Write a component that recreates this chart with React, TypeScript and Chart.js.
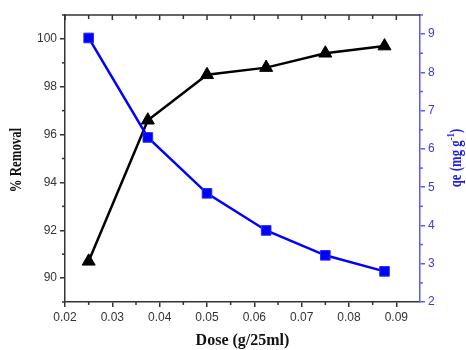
import React, { useEffect, useRef } from "react";
import { Chart, registerables } from "chart.js";

Chart.register(...registerables);

const doses = [0.025, 0.0375, 0.05, 0.0625, 0.075, 0.0875];
const removal = [90.7, 96.6, 98.5, 98.8, 99.4, 99.7];
const qe = [8.9, 6.3, 4.84, 3.87, 3.22, 2.8];

const xMajor = [0.02, 0.03, 0.04, 0.05, 0.06, 0.07, 0.08, 0.09];
const xMinor = [0.025, 0.035, 0.045, 0.055, 0.065, 0.075, 0.085];
const yMajor = [90, 92, 94, 96, 98, 100];
const yMinor = [89, 91, 93, 95, 97, 99, 101];
const y1Major = [2, 3, 4, 5, 6, 7, 8, 9];
const y1Minor = [2.5, 3.5, 4.5, 5.5, 6.5, 7.5, 8.5, 9.5];

const xTitle = "Dose (g/25ml)";
const yTitle = "% Removal";
const y1TitleMain = "qe (mg g";
const y1TitleSup = "-1";
const y1TitleEnd = ")";

const AXIS = "#333333";
const BLUE_AXIS = "#5a5aff";
const BLUE_TEXT = "#3a3ae0";

const framePlugin = {
  id: "frame",
  afterDraw(chart: any) {
    const { ctx, chartArea } = chart;
    const { left, right, top, bottom } = chartArea;
    const x = chart.scales.x;
    const y = chart.scales.y;
    const y1 = chart.scales.y1;
    const ln = (a: number, b: number, c: number, d: number) => {
      ctx.beginPath();
      ctx.moveTo(a, b);
      ctx.lineTo(c, d);
      ctx.stroke();
    };
    ctx.save();
    ctx.lineWidth = 1.5;
    ctx.strokeStyle = AXIS;
    ln(left, top, right, top);
    xMajor.forEach((v) => {
      const p = x.getPixelForValue(v);
      ln(p, top, p, top + 5);
    });
    xMinor.forEach((v) => {
      const p = x.getPixelForValue(v);
      ln(p, top, p, top + 4);
      ln(p, bottom, p, bottom + 3);
    });
    yMinor.forEach((v) => {
      const p = y.getPixelForValue(v);
      if (p >= top - 0.5 && p <= bottom + 0.5) ln(left, p, left - 3, p);
    });
    ctx.strokeStyle = BLUE_AXIS;
    y1Minor.forEach((v) => {
      const p = y1.getPixelForValue(v);
      if (p >= top - 0.5 && p <= bottom + 0.5) ln(right, p, right + 3, p);
    });

    // Titles
    ctx.fillStyle = "#111";
    ctx.font = "bold 16px 'Liberation Serif'";
    ctx.textAlign = "center";
    ctx.textBaseline = "middle";
    ctx.fillText(xTitle, (left + right) / 2, 341);

    ctx.save();
    ctx.translate(17, 160);
    ctx.rotate(-Math.PI / 2);
    ctx.scale(0.8, 1);
    ctx.fillText(yTitle, 0, 0);
    ctx.restore();

    ctx.save();
    ctx.translate(457, 158);
    ctx.rotate(-Math.PI / 2);
    ctx.scale(0.8, 1);
    ctx.fillStyle = "#2020e0";
    ctx.textAlign = "left";
    ctx.font = "bold 16px 'Liberation Serif'";
    const w1 = ctx.measureText(y1TitleMain).width;
    ctx.font = "bold 11px 'Liberation Serif'";
    const w2 = ctx.measureText(y1TitleSup).width;
    ctx.font = "bold 16px 'Liberation Serif'";
    const w3 = ctx.measureText(y1TitleEnd).width;
    const total = w1 + w2 + w3;
    let cx = -total / 2;
    ctx.fillText(y1TitleMain, cx, 0);
    cx += w1;
    ctx.font = "bold 11px 'Liberation Serif'";
    ctx.fillText(y1TitleSup, cx, -6);
    cx += w2;
    ctx.font = "bold 16px 'Liberation Serif'";
    ctx.fillText(y1TitleEnd, cx, 0);
    ctx.restore();

    ctx.restore();
  },
};

export default function App() {
  const ref = useRef<HTMLCanvasElement | null>(null);
  useEffect(() => {
    if (!ref.current) return;
    Chart.defaults.font.family = "'Liberation Sans', Arial, sans-serif";
    const chart = new Chart(ref.current, {
      type: "line",
      data: {
        datasets: [
          {
            label: "qe",
            data: doses.map((d, i) => ({ x: d, y: qe[i] })),
            yAxisID: "y1",
            borderColor: "#0000ff",
            backgroundColor: "#0000ff",
            borderWidth: 2.5,
            pointStyle: "rect",
            pointRadius: 6.8,
            pointBorderColor: "#2a2aff",
            pointBorderWidth: 1,
            tension: 0,
            order: 1,
          },
          {
            label: "% Removal",
            data: doses.map((d, i) => ({ x: d, y: removal[i] })),
            yAxisID: "y",
            borderColor: "#000000",
            backgroundColor: "#000000",
            borderWidth: 2.5,
            pointStyle: "triangle",
            pointRadius: 7.5,
            pointBorderWidth: 1,
            tension: 0,
            order: 2,
          },
        ],
      },
      options: {
        animation: false,
        responsive: false,
        maintainAspectRatio: false,
        layout: { padding: { top: 15, left: 0, right: 0, bottom: 0 } },
        plugins: { legend: { display: false }, tooltip: { enabled: false } },
        scales: {
          x: {
            type: "linear",
            position: "bottom",
            min: 0.02,
            max: 0.095,
            afterBuildTicks: (s: any) => {
              s.ticks = xMajor.map((v) => ({ value: v }));
            },
            afterFit: (s: any) => {
              s.height = 48;
            },
            ticks: {
              color: "#333",
              font: { size: 12 },
              padding: 3,
              maxRotation: 0,
              callback: (v: any) => Number(v).toFixed(2),
            },
            grid: {
              display: true,
              drawOnChartArea: false,
              drawTicks: true,
              tickLength: 5,
              color: AXIS,
              lineWidth: 1.5,
            },
            border: { display: true, color: AXIS, width: 1.5 },
          },
          y: {
            type: "linear",
            position: "left",
            min: 89,
            max: 101,
            afterBuildTicks: (s: any) => {
              s.ticks = yMajor.map((v) => ({ value: v }));
            },
            afterFit: (s: any) => {
              s.width = 65;
            },
            ticks: {
              color: "#333",
              font: { size: 12 },
              padding: 3,
              callback: (v: any) => String(v),
            },
            grid: {
              display: true,
              drawOnChartArea: false,
              drawTicks: true,
              tickLength: 5,
              color: AXIS,
              lineWidth: 1.5,
            },
            border: { display: true, color: AXIS, width: 1.5 },
          },
          y1: {
            type: "linear",
            position: "right",
            min: 2,
            max: 9.5,
            afterBuildTicks: (s: any) => {
              s.ticks = y1Major.map((v) => ({ value: v }));
            },
            afterFit: (s: any) => {
              s.width = 46;
            },
            ticks: {
              color: BLUE_TEXT,
              font: { size: 12 },
              padding: 3,
              callback: (v: any) => String(v),
            },
            grid: {
              display: true,
              drawOnChartArea: false,
              drawTicks: true,
              tickLength: 5,
              color: BLUE_AXIS,
              lineWidth: 1.5,
            },
            border: { display: true, color: BLUE_AXIS, width: 1.5 },
          },
        },
      },
      plugins: [framePlugin],
    });
    return () => chart.destroy();
  }, []);
  return (
    <div style={{ position: "fixed", left: 0, top: 0, width: 466, height: 350, background: "#fff" }}>
      <canvas ref={ref} width={466} height={350} style={{ width: 466, height: 350, display: "block" }} />
    </div>
  );
}
